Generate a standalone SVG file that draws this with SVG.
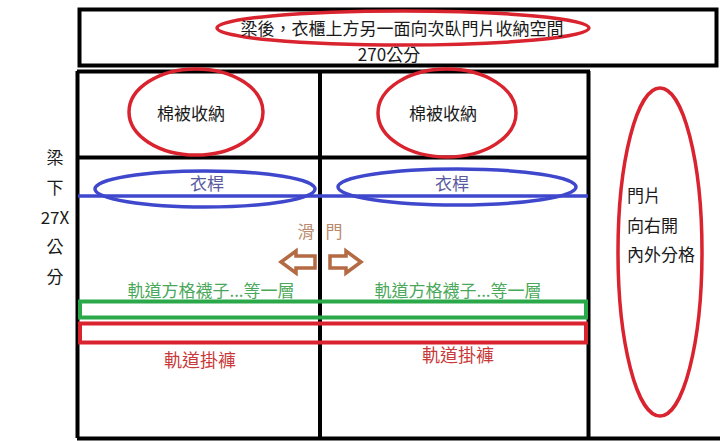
<svg xmlns="http://www.w3.org/2000/svg" width="720" height="441" viewBox="0 0 720 441">
<style>
text{font-family:"Noto Sans CJK TC","Noto Sans CJK SC","Liberation Sans",sans-serif;}
.blk{fill:#1a1a1a;font-size:17px;}
.red{fill:none;stroke:#d9232e;stroke-width:3.5;}
.blue{fill:none;stroke:#3f48cc;stroke-width:3.5;}
.line{stroke:#000;stroke-width:4;fill:none;}
.arr{fill:#fff;stroke:#b46a43;stroke-width:3.5;stroke-linejoin:miter;}
</style>
<rect width="720" height="441" fill="#fff"/>
<g id="frame">
<rect x="79.5" y="9.5" width="637" height="56" class="line" stroke-width="5"/>
<path class="line" d="M77.5 71 V438 M77 71.5 H590 M77 157.5 H590 M320 71 V438 M588.5 71 V438 M77 438.5 H720"/>
</g>
<g id="top-title">
<ellipse cx="403" cy="28" rx="186" ry="17" class="red" stroke-width="4.5"/>
<text x="402" y="35" text-anchor="middle" class="blk" font-size="18">梁後，衣櫃上方另一面向次臥門片收納空間</text>
<text x="389" y="61" text-anchor="middle" class="blk" font-size="17">270公分</text>
</g>
<g id="quilt-left">
<ellipse cx="196" cy="112" rx="67" ry="43" class="red"/>
<text x="191" y="120" text-anchor="middle" class="blk">棉被收納</text>
</g>
<g id="quilt-right">
<ellipse cx="447" cy="113" rx="69" ry="44" class="red"/>
<text x="443" y="120" text-anchor="middle" class="blk">棉被收納</text>
</g>
<g id="rod">
<line x1="78" y1="196" x2="588" y2="196" stroke="#3f48cc" stroke-width="3.5"/>
<ellipse cx="205" cy="189" rx="110" ry="18" class="blue"/>
<text x="207" y="190" text-anchor="middle" fill="#5a5aa0" font-size="17">衣桿</text>
<ellipse cx="457" cy="187" rx="119" ry="18" class="blue"/>
<text x="452" y="190" text-anchor="middle" fill="#5a5aa0" font-size="17">衣桿</text>
</g>
<g id="sliding-door">
<text x="306" y="238" text-anchor="middle" fill="#b98a6e" font-size="17">滑</text>
<text x="334" y="238" text-anchor="middle" fill="#b98a6e" font-size="17">門</text>
<polygon class="arr" points="281,262 296,251 296,256 315,256 315,268 296,268 296,273"/>
<polygon class="arr" points="361,262 346,251 346,256 330,256 330,268 346,268 346,273"/>
</g>
<g id="socks-shelf">
<text x="211" y="297" text-anchor="middle" fill="#4aa85a" font-size="17">軌道方格襪子...等一層</text>
<text x="458" y="297" text-anchor="middle" fill="#4aa85a" font-size="17">軌道方格襪子...等一層</text>
<rect x="80" y="301.5" width="506" height="16" fill="none" stroke="#2aa84a" stroke-width="4"/>
</g>
<g id="pants-rail">
<rect x="80" y="323.5" width="506" height="19" fill="none" stroke="#d9232e" stroke-width="4"/>
<text x="200" y="367" text-anchor="middle" fill="#c83a3a" font-size="18">軌道掛褲</text>
<text x="458" y="362" text-anchor="middle" fill="#c83a3a" font-size="18">軌道掛褲</text>
</g>
<g id="door-panel">
<ellipse cx="660" cy="252" rx="42" ry="164" class="red"/>
<text x="627" y="202" class="blk">門片</text>
<text x="627" y="232" class="blk">向右開</text>
<text x="627" y="261" class="blk">內外分格</text>
</g>
<g id="beam-label">
<text x="55" y="164" text-anchor="middle" class="blk">梁</text>
<text x="55" y="194" text-anchor="middle" class="blk">下</text>
<text x="55" y="224" text-anchor="middle" class="blk">27X</text>
<text x="55" y="253" text-anchor="middle" class="blk">公</text>
<text x="55" y="283" text-anchor="middle" class="blk">分</text>
</g>
<g id="connectors"></g>
</svg>
